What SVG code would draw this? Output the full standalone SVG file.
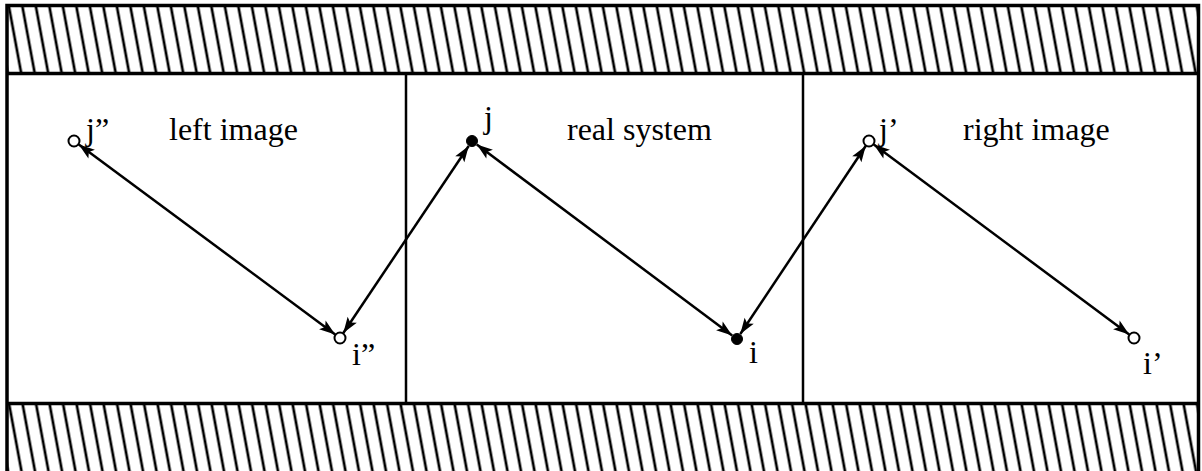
<svg xmlns="http://www.w3.org/2000/svg" width="1202" height="471" viewBox="0 0 1202 471">
<style>
.frame{fill:none;stroke:#000;stroke-width:3.5}
.div{fill:none;stroke:#000;stroke-width:2.5}
.conn{fill:none;stroke:#000;stroke-width:2.5;marker-start:url(#ah);marker-end:url(#ah)}
.open{fill:#fff;stroke:#000;stroke-width:2}
.full{fill:#000;stroke:#000;stroke-width:1}
text{font-family:"Liberation Serif","Times New Roman",serif;font-size:32px;fill:#000}
</style>
<defs>
<pattern id="hatchTop" patternUnits="userSpaceOnUse" width="13.5" height="20" patternTransform="translate(0.95,0) skewX(10.46)">
<line x1="6.75" y1="-2" x2="6.75" y2="22" stroke="#000" stroke-width="2.7"/>
</pattern>
<pattern id="hatchBot" patternUnits="userSpaceOnUse" width="13.5" height="20" patternTransform="translate(-72.25,0) skewX(10.46)">
<line x1="6.75" y1="-2" x2="6.75" y2="22" stroke="#000" stroke-width="2.7"/>
</pattern>
<marker id="ah" viewBox="-17 -7 18 14" refX="0" refY="0" markerWidth="18" markerHeight="14" orient="auto-start-reverse" markerUnits="userSpaceOnUse">
<path d="M0,0 L-16,-5.5 L-12.5,0 L-16,5.5 Z" fill="#000"/>
</marker>
</defs>
<g id="walls">
<rect x="7" y="5.5" width="1191.5" height="68" fill="url(#hatchTop)"/>
<rect x="7" y="403.5" width="1191.5" height="70" fill="url(#hatchBot)"/>
<path class="frame" d="M7,473 V5.5 H1198.5 V473"/>
<path class="frame" d="M7,73.5 H1198.5"/>
<path class="frame" d="M7,403.5 H1198.5"/>
<path class="div" d="M406,73.5 V403.5 M803,73.5 V403.5"/>
</g>
<g id="labels">
<text x="169" y="140">left image</text>
<text x="567" y="140">real system</text>
<text x="963" y="140">right image</text>
</g>
<g id="connectors">
<line class="conn" x1="78.8" y1="144.6" x2="335.2" y2="334.4"/>
<line class="conn" x1="343.3" y1="333" x2="468.7" y2="146"/>
<line class="conn" x1="476.8" y1="144.6" x2="732.2" y2="335.4"/>
<line class="conn" x1="740.3" y1="334" x2="865.7" y2="146"/>
<line class="conn" x1="873.8" y1="144.6" x2="1129.2" y2="334.4"/>
</g>
<g id="node-j2">
<circle class="open" cx="74" cy="141" r="5.5"/>
<text x="86" y="140">j”</text>
</g>
<g id="node-i2">
<circle class="open" cx="340" cy="338" r="5.5"/>
<text x="352" y="365">i”</text>
</g>
<g id="node-j">
<circle class="full" cx="472" cy="141" r="5.5"/>
<text x="484" y="128">j</text>
</g>
<g id="node-i">
<circle class="full" cx="737" cy="339" r="5.5"/>
<text x="749" y="363">i</text>
</g>
<g id="node-j1">
<circle class="open" cx="869" cy="141" r="5.5"/>
<text x="879" y="140">j’</text>
</g>
<g id="node-i1">
<circle class="open" cx="1134" cy="338" r="5.5"/>
<text x="1143" y="374">i’</text>
</g>
</svg>
